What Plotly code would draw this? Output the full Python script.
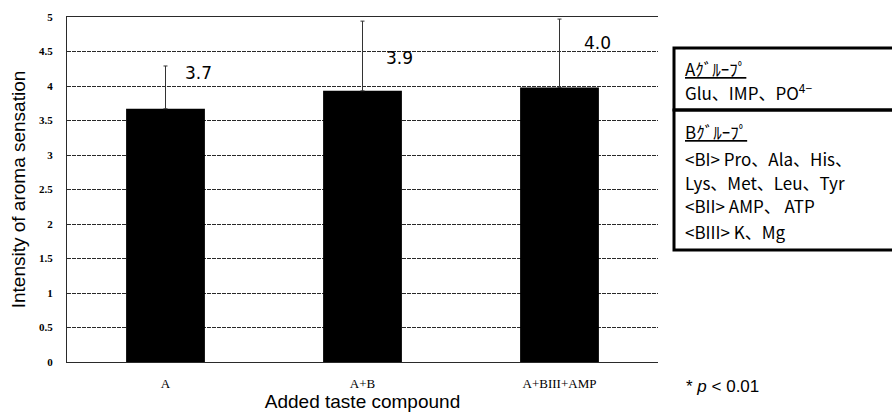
import plotly.graph_objects as go

# Data
categories = ["A", "A+B", "A+BIII+AMP"]
intensity = [3.67, 3.93, 3.98]
error_up = [0.62, 1.01, 0.99]

y_ticks = [0, 0.5, 1, 1.5, 2, 2.5, 3, 3.5, 4, 4.5, 5]

legend_a_title = "Aｸﾞﾙｰﾌﾟ"
legend_a_lines = ["Glu、IMP、PO<sup>4−</sup>"]
legend_b_title = "Bｸﾞﾙｰﾌﾟ"
legend_b_lines = ["<BI> Pro、Ala、His、", "Lys、Met、Leu、Tyr", "<BII> AMP、 ATP", "<BIII> K、Mg"]
note_text = "* <i>p</i> < 0.01"

fig = go.Figure()

fig.add_trace(go.Bar(
    x=categories,
    y=intensity,
    marker=dict(color="black", line=dict(width=0)),
    error_y=dict(type="data", symmetric=False, array=error_up, arrayminus=[0] * len(error_up),
                 color="#333333", thickness=1, width=2),
    width=0.4,
    hoverinfo="skip",
))

# value labels placed to the right of each error bar, above the bar top
label_offset = [(33, 0.52), (37, 0.48), (38, 0.64)]
for cat, val, (dx, dy) in zip(categories, intensity, label_offset):
    fig.add_annotation(
        x=cat, y=val + dy, xref="x", yref="y",
        text=f"{val:.1f}", showarrow=False, xshift=dx,
        font=dict(family="DejaVu Sans", size=17, color="black"),
    )

grid_style = dict(showgrid=True, gridcolor="#2a2a2a", gridwidth=1, griddash="4px,1px")

fig.update_layout(
    width=892, height=412,
    margin=dict(l=67, r=234, t=17, b=50),
    paper_bgcolor="white", plot_bgcolor="white",
    showlegend=False,
    bargap=0.6,
    xaxis=dict(
        type="category", automargin=False,
        showline=True, linecolor="#2a2a2a", linewidth=1, mirror=True,
        ticks="", tickfont=dict(family="Liberation Serif", size=13, color="black"),
        ticklabelstandoff=9,
        title=dict(text="Added taste compound", standoff=5,
                   font=dict(family="Liberation Sans", size=19, color="black")),
    ),
    yaxis=dict(
        range=[0, 5], tickvals=y_ticks, automargin=False,
        ticktext=[f"<b>{v:g}</b>" for v in y_ticks],
        showline=True, linecolor="#2a2a2a", linewidth=1,
        ticks="", tickfont=dict(family="Liberation Serif", size=11, color="black"),
        ticklabelstandoff=11,
        title=dict(text="Intensity of aroma sensation", standoff=8,
                   font=dict(family="Liberation Sans", size=19, color="black")),
        zeroline=False,
        **grid_style,
    ),
)

# legend boxes for the compound groups
box_font = dict(family="Noto Sans CJK JP", size=17, color="black")
x0_px, x1_px = 674, 905
W, H = 892, 412
l, r, t, b = 67, 234, 17, 50
pw, ph = W - l - r, H - t - b


def px_to_paper(xp, yp):
    return (xp - l) / pw, 1 - (yp - t) / ph


for y0, y1 in [(48, 110), (110, 250)]:
    ax0, ay0 = px_to_paper(x0_px, y0)
    ax1, ay1 = px_to_paper(x1_px, y1)
    fig.add_shape(type="rect", xref="paper", yref="paper", x0=ax0, x1=ax1, y0=ay1, y1=ay0,
                  line=dict(color="black", width=3), fillcolor="rgba(0,0,0,0)")

rows = [(legend_a_title, 68, True)] + [(s, 92, False) for s in legend_a_lines]
rows += [(legend_b_title, 132, True)]
rows += [(s.replace("<B", "&lt;B").replace("> ", "&gt; "), y, False)
         for s, y in zip(legend_b_lines, [158, 182, 206, 231])]
for txt, ypx, underline in rows:
    ax, ay = px_to_paper(683, ypx)
    fig.add_annotation(xref="paper", yref="paper", x=ax, y=ay, xanchor="left", yanchor="middle",
                       text=f"<u>{txt}</u>" if underline else txt, showarrow=False, font=box_font)

ax, ay = px_to_paper(684, 386)
fig.add_annotation(xref="paper", yref="paper", x=ax, y=ay, xanchor="left", yanchor="middle",
                   text=note_text, showarrow=False,
                   font=dict(family="Liberation Sans", size=17, color="black"))

fig.write_html("out.html")
